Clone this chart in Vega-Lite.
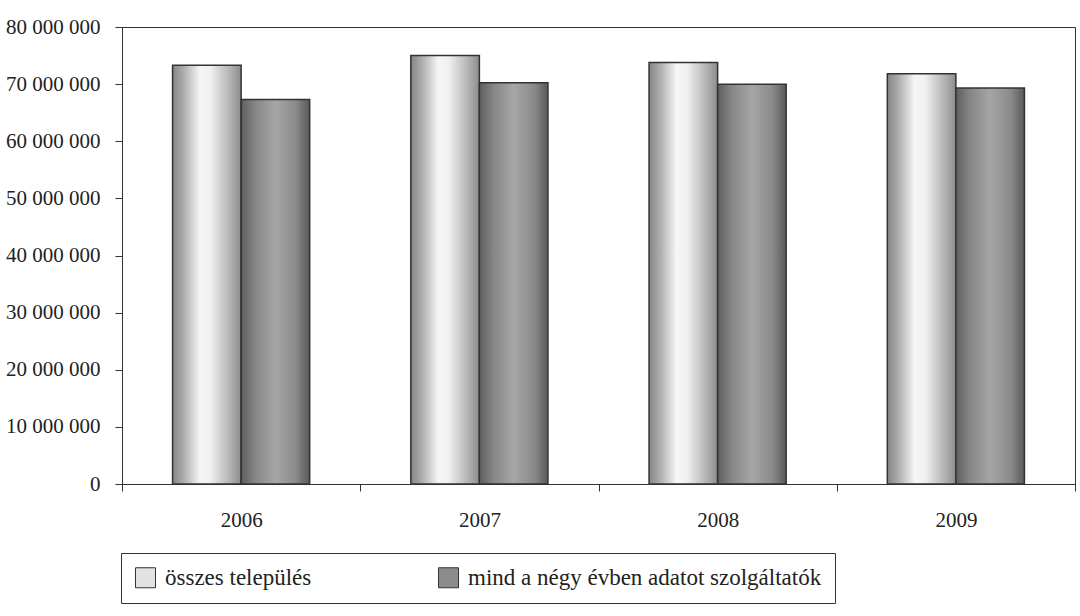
{
  "$schema": "https://vega.github.io/schema/vega-lite/v6.json",
  "width": 953,
  "height": 457,
  "autosize": {"type": "none"},
  "padding": {"left": 122, "top": 27, "right": 5, "bottom": 132},
  "background": "white",
  "data": {
    "values": [
      {"year": "2006", "series": "összes település", "value": 73300000},
      {"year": "2006", "series": "mind a négy évben adatot szolgáltatók", "value": 67300000},
      {"year": "2007", "series": "összes település", "value": 75000000},
      {"year": "2007", "series": "mind a négy évben adatot szolgáltatók", "value": 70250000},
      {"year": "2008", "series": "összes település", "value": 73800000},
      {"year": "2008", "series": "mind a négy évben adatot szolgáltatók", "value": 70000000},
      {"year": "2009", "series": "összes település", "value": 71800000},
      {"year": "2009", "series": "mind a négy évben adatot szolgáltatók", "value": 69300000}
    ]
  },
  "encoding": {
    "x": {
      "field": "year",
      "type": "nominal",
      "title": null,
      "scale": {"paddingInner": 0, "paddingOuter": 0},
      "axis": {
        "labelAngle": 0,
        "tickBand": "extent",
        "tickSize": 7,
        "tickColor": "#333333",
        "domainColor": "#333333",
        "labelPadding": 18,
        "labelFontSize": 21,
        "labelFont": "Liberation Serif",
        "labelColor": "#222222"
      }
    },
    "xOffset": {
      "field": "series",
      "type": "nominal",
      "sort": ["összes település", "mind a négy évben adatot szolgáltatók"],
      "scale": {"paddingInner": 0, "paddingOuter": 0.7375}
    }
  },
  "layer": [
    {
      "mark": {"type": "bar", "strokeWidth": 0},
      "encoding": {
        "y": {"datum": 0, "type": "quantitative", "scale": {"domain": [0, 80000000], "nice": false}},
        "fill": {
          "field": "series",
          "type": "nominal",
          "sort": ["összes település", "mind a négy évben adatot szolgáltatók"],
          "scale": {
            "domain": ["összes település", "mind a négy évben adatot szolgáltatók"],
            "range": ["#e2e2e2", "#8c8c8c"]
          },
          "legend": {
            "title": null,
            "orient": "none",
            "legendX": -1,
            "legendY": 526,
            "direction": "horizontal",
            "columns": 2,
            "columnPadding": 124,
            "padding": 13,
            "strokeColor": "#333333",
            "fillColor": "white",
            "symbolType": "square",
            "symbolSize": 400,
            "symbolStrokeColor": "#333333",
            "symbolStrokeWidth": 1,
            "symbolOpacity": 1,
            "labelFontSize": 23,
            "labelFont": "Liberation Serif",
            "labelColor": "#222222",
            "labelOffset": 8,
            "labelLimit": 600,
            "labelExpr": "datum.label == 'mind a négy évben adatot szolgáltatók' ? datum.label + '\u00a0\u00a0\u00a0\u00a0' : datum.label"
          }
        }
      }
    },
    {
      "mark": {"type": "bar", "strokeWidth": 1.5, "stroke": "#333333"},
      "encoding": {
        "y": {
          "field": "value",
          "type": "quantitative",
          "title": null,
          "scale": {"domain": [0, 80000000], "nice": false},
          "axis": {
            "values": [0, 10000000, 20000000, 30000000, 40000000, 50000000, 60000000, 70000000, 80000000],
            "format": ",d",
            "tickSize": 7,
            "tickColor": "#333333",
            "domainColor": "#333333",
            "gridColor": "#333333",
            "gridWidth": 1,
            "labelPadding": 15,
            "labelFontSize": 21,
            "labelFont": "Liberation Serif",
            "labelColor": "#222222"
          }
        },
        "fill": {
          "condition": {
            "test": "datum.series === 'összes település'",
            "value": {"gradient": "linear", "x1": 0, "y1": 0, "x2": 1, "y2": 0, "stops": [
              {"offset": 0, "color": "#868686"},
              {"offset": 0.15, "color": "#a9a9a9"},
              {"offset": 0.4, "color": "#f6f6f6"},
              {"offset": 0.55, "color": "#f0f0f0"},
              {"offset": 0.85, "color": "#b0b0b0"},
              {"offset": 1, "color": "#8c8c8c"}
            ]}
          },
          "value": {"gradient": "linear", "x1": 0, "y1": 0, "x2": 1, "y2": 0, "stops": [
            {"offset": 0, "color": "#5e5e5e"},
            {"offset": 0.2, "color": "#858585"},
            {"offset": 0.5, "color": "#a6a6a6"},
            {"offset": 0.8, "color": "#8a8a8a"},
            {"offset": 1, "color": "#595959"}
          ]}
        }
      }
    }
  ],
  "resolve": {"scale": {"fill": "independent"}},
  "config": {
    "locale": {
      "number": {"decimal": ",", "thousands": " ", "grouping": [3], "currency": ["", ""]}
    },
    "view": {"stroke": "#333333", "strokeWidth": 1},
    "axis": {"gridOpacity": 1}
  }
}
